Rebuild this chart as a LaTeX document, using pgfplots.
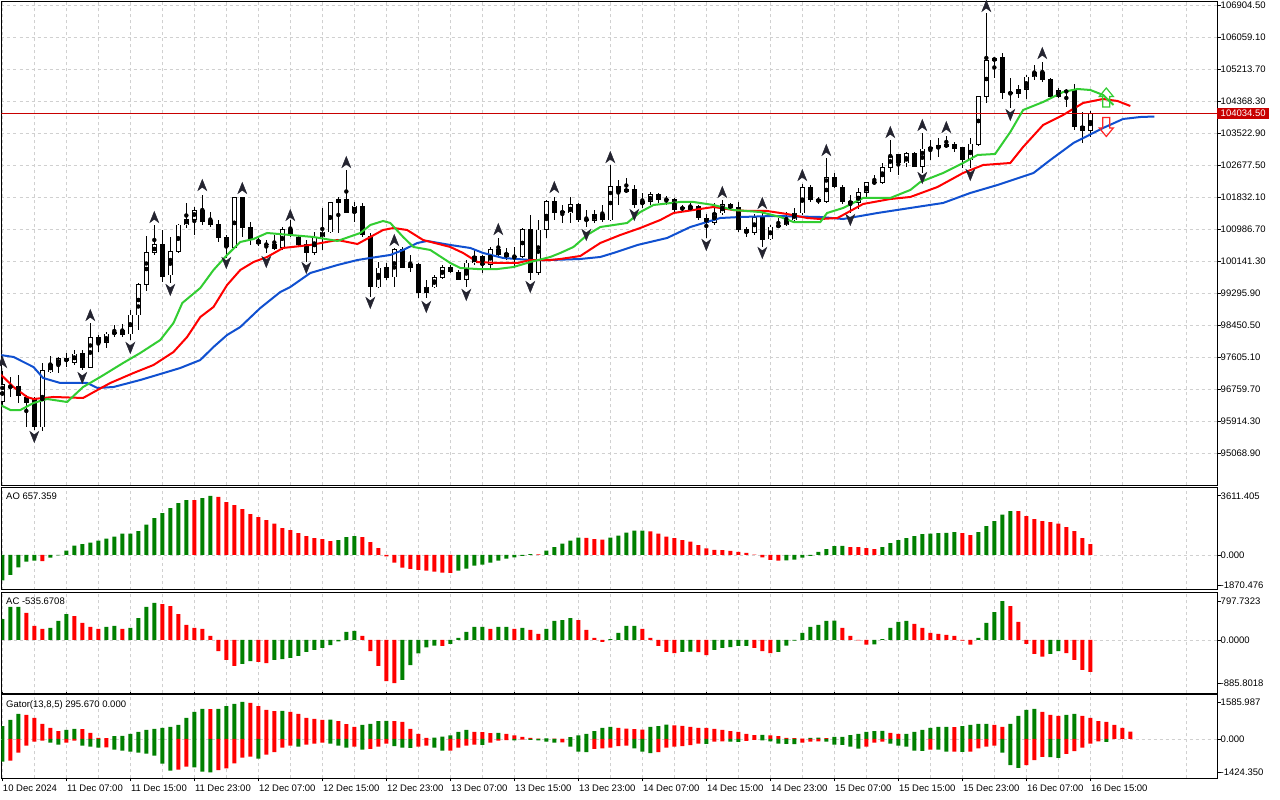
\documentclass[border=0pt]{standalone}
\usepackage{pgfplots}
\pgfplotsset{compat=1.18}
\usepackage{pgfplotstable}
\usepackage{fontspec}
\setmainfont{Liberation Sans}
\definecolor{mtgreen}{RGB}{0,128,0}
\definecolor{mtred}{RGB}{255,0,0}
\definecolor{pricered}{RGB}{200,0,0}
\definecolor{jawblue}{RGB}{16,80,208}
\definecolor{lipsgreen}{RGB}{50,205,50}
\definecolor{gridgray}{RGB}{208,208,208}
\definecolor{fracdark}{RGB}{36,36,48}
\newcommand\mtfont{\fontsize{9.5}{11}\selectfont}

\pgfdeclareplotmark{fracup}{%
  \pgfpathmoveto{\pgfqpoint{0pt}{5.5pt}}\pgfpathlineto{\pgfqpoint{4.4pt}{-5.5pt}}%
  \pgfpathlineto{\pgfqpoint{0pt}{-2.2pt}}\pgfpathlineto{\pgfqpoint{-4.4pt}{-5.5pt}}%
  \pgfpathclose\pgfusepathqfillstroke}
\pgfdeclareplotmark{fracdn}{%
  \pgfpathmoveto{\pgfqpoint{0pt}{-5.5pt}}\pgfpathlineto{\pgfqpoint{4.4pt}{5.5pt}}%
  \pgfpathlineto{\pgfqpoint{0pt}{2.2pt}}\pgfpathlineto{\pgfqpoint{-4.4pt}{5.5pt}}%
  \pgfpathclose\pgfusepathqfillstroke}
\pgfdeclareplotmark{sigup}{%
  \pgfpathmoveto{\pgfqpoint{0pt}{9.5pt}}\pgfpathlineto{\pgfqpoint{7pt}{1pt}}%
  \pgfpathlineto{\pgfqpoint{3.5pt}{1pt}}\pgfpathlineto{\pgfqpoint{3.5pt}{-9.5pt}}%
  \pgfpathlineto{\pgfqpoint{-3.5pt}{-9.5pt}}\pgfpathlineto{\pgfqpoint{-3.5pt}{1pt}}%
  \pgfpathlineto{\pgfqpoint{-7pt}{1pt}}\pgfpathclose\pgfusepathqstroke}
\pgfdeclareplotmark{sigdn}{%
  \pgfpathmoveto{\pgfqpoint{0pt}{-9.5pt}}\pgfpathlineto{\pgfqpoint{7pt}{-1pt}}%
  \pgfpathlineto{\pgfqpoint{3.5pt}{-1pt}}\pgfpathlineto{\pgfqpoint{3.5pt}{9.5pt}}%
  \pgfpathlineto{\pgfqpoint{-3.5pt}{9.5pt}}\pgfpathlineto{\pgfqpoint{-3.5pt}{-1pt}}%
  \pgfpathlineto{\pgfqpoint{-7pt}{-1pt}}\pgfpathclose\pgfusepathqstroke}

\pgfplotsset{
  mtpanel/.style={
    scale only axis, width=1216pt, xmin=-0.1, xmax=151.9, anchor=south west,
    axis line style={black, line width=1pt},
    xtick={0,8,...,136}, minor xtick={4,12,...,148},
    xmajorgrids, xminorgrids,
    major grid style={gridgray, dash pattern=on 3pt off 3pt, line width=0.8pt},
    minor grid style={gridgray, dash pattern=on 3pt off 3pt, line width=0.8pt},
    xticklabels={}, xtick style={draw=none},
    ytick pos=right, yticklabel pos=right,
    tick align=outside, major tick length=3pt, minor tick length=0pt,
    ytick style={black, line width=0.8pt},
    yticklabel style={font=\mtfont, anchor=west, inner sep=0pt},
    /pgf/number format/assume math mode=true,
  },
  bars/.style={ybar, bar width=4pt, bar shift=0pt, draw=none},
}

\pgfplotstableread{
i O H L C
0 96416 97235 96337 96865
1 96838 97076 96548 96812
2 96838 97129 96390 96574
3 96522 96601 95755 96390
4 96469 96548 95676 95755
5 95755 97446 95650 97235
6 97208 97631 97182 97419
7 97419 97605 97182 97552
8 97552 97711 97340 97499
9 97472 97790 97393 97684
10 97684 97790 97261 97340
11 97340 98503 97314 98107
12 98107 98186 97737 97975
13 97975 98265 97843 98212
14 98212 98450 98133 98265
15 98292 98476 98133 98186
16 98212 98846 98054 98714
17 98714 99560 98318 99507
18 99507 100801 99349 100353
19 100353 101092 100300 100564
20 100564 100960 99586 99744
21 99771 100775 99560 100379
22 100379 101118 100353 101092
23 101092 101674 101013 101250
24 101250 101568 100828 101488
25 101488 101885 101092 101171
26 101198 101435 101039 101118
27 101118 101224 100643 100749
28 100749 100828 100221 100511
29 100485 101832 100470 101806
30 101806 101832 100775 101013
31 101013 101171 100564 100696
32 100670 100801 100537 100590
33 100590 100696 100353 100564
34 100564 100828 100432 100458
35 100485 101039 100432 100986
36 100986 101224 100775 100828
37 100775 100828 100511 100564
38 100590 100696 100114 100353
39 100353 100907 100300 100775
40 100775 101542 100432 100907
41 100907 101700 100881 101674
42 101674 101832 100881 101779
43 101779 102545 101409 101435
44 101435 101700 101171 101594
45 101594 101674 100775 100828
46 100801 100881 99190 99454
47 99454 100114 99428 99956
48 99982 100088 99639 99692
49 99718 100485 99454 100432
50 100432 100511 99956 99982
51 99982 100300 99850 100061
52 100061 100088 99164 99296
53 99296 99639 99164 99454
54 99454 99771 99428 99692
55 99692 100035 99665 99982
56 99982 100035 99824 99850
57 99850 99903 99639 99665
58 99665 100167 99454 100088
59 100088 100432 100035 100247
60 100247 100300 99824 100061
61 100061 100511 99903 100432
62 100432 100749 100247 100300
63 100326 100485 100167 100247
64 100273 100511 99956 100247
65 100247 101013 100221 100986
66 100986 101356 99639 99824
67 99824 101224 99771 100960
68 100960 101753 100749 101700
69 101700 101832 101224 101435
70 101462 101621 101145 101409
71 101409 101832 101145 101621
72 101621 101674 101171 101224
73 101250 101488 101039 101198
74 101198 101488 101145 101382
75 101382 101621 101171 101224
76 101224 102677 101198 102122
77 102122 102281 101621 101964
78 101964 102334 101938 102043
79 102043 102149 101542 101621
80 101647 101938 101542 101700
81 101700 101964 101621 101885
82 101885 101938 101674 101753
83 101779 101858 101621 101753
84 101779 101806 101435 101488
85 101542 101621 101435 101525
86 101514 101674 101488 101568
87 101568 101621 101224 101277
88 101277 101382 100749 101145
89 101145 101674 101092 101409
90 101409 101753 101356 101621
91 101621 101674 101488 101542
92 101542 101700 100907 100960
93 100986 101039 100775 100881
94 100881 101382 100828 101303
95 101303 101488 100511 100696
96 100722 101092 100696 101039
97 101039 101277 101013 101092
98 101092 101435 101065 101224
99 101224 101542 101171 101409
100 101409 102175 101356 102070
101 102070 102149 101700 101753
102 101779 101832 101647 101700
103 101700 102862 101674 102334
104 102334 102466 102070 102096
105 102096 102149 101647 101700
106 101674 101885 101409 101700
107 101674 102070 101515 101938
108 101938 102228 101832 102202
109 102202 102413 102149 102228
110 102202 102730 102175 102624
111 102624 103338 102492 102915
112 102942 102968 102413 102730
113 102730 103021 102624 102968
114 102968 103021 102624 102650
115 102650 103523 102466 103100
116 103100 103338 102809 103127
117 103127 103391 102888 103180
118 103153 103444 103127 103232
119 103232 103285 103021 103100
120 103127 103153 102598 102809
121 102809 103391 102598 103232
122 103206 104501 103180 104474
123 104474 106693 104316 105425
124 105425 105530 104976 105504
125 105530 105637 104421 104580
126 104580 104976 104183 104553
127 104553 104791 104448 104659
128 104659 105055 104421 105002
129 105002 105319 104923 105134
130 105134 105398 104870 104923
131 104949 104976 104448 104474
132 104474 104712 104448 104633
133 104633 104685 104209 104606
134 104633 104817 103602 103681
135 103707 104077 103259 103576
136 103576 104104 103417 104034.5
}\candles

\pgfplotstableread{
x y
-0.25 97658
1.4 97605
3.9 97340
5.1 97050
7.25 96918
10.6 96918
11.9 96786
13.9 96812
17.25 96997
19.75 97155
22.25 97314
24.75 97525
26.4 97869
28.1 98186
29.75 98397
32.25 98899
34.75 99322
36 99454
38.5 99824
41.9 100035
44.4 100167
46 100221
48.5 100300
50.1 100432
51.9 100617
53.1 100670
56 100564
58.5 100485
60.1 100353
62.6 100221
66 100167
68.5 100167
72.25 100194
74.75 100247
76.4 100353
79.4 100564
83.1 100749
86 101039
89.75 101277
92.25 101303
96.4 101330
102.25 101303
105.1 101250
109.4 101409
113.5 101542
117.6 101674
121 101938
124.4 102149
128.9 102466
131 102809
133.9 103259
137.6 103655
140.1 103893
142.25 103945
144 103958
}\jaw

\pgfplotstableread{
x y
-0.25 97155
1.4 96812
3.1 96548
3.9 96495
6.4 96548
10.1 96522
11.9 96733
13.5 96918
16.4 97182
18.9 97393
21.4 97737
23.1 98133
24.75 98661
26.4 98926
28.1 99507
29.75 99903
31.4 100114
33.1 100247
35.1 100485
38.5 100564
41.9 100696
44.4 100590
46 100775
47.6 100960
48.9 101013
50.6 100960
52.6 100696
56 100511
57.6 100353
59.4 100114
61.9 100088
64.4 100088
66 100167
68.5 100167
69.75 100194
72.25 100273
74.75 100617
77.25 100828
79.75 101013
82.25 101224
83.9 101409
86.4 101488
88.9 101568
91.4 101488
93.1 101462
95.6 101462
98.1 101382
100.6 101277
102.25 101250
104.4 101277
107.6 101647
111 101779
113.5 101832
116.9 102096
120.1 102466
122.6 102677
126 102730
127.6 103153
130.1 103734
132.6 103998
135.1 104316
137.6 104421
139.4 104368
141 104236
}\teeth

\pgfplotstableread{
x y
-0.25 96337
1 96204
2.25 96204
3.9 96390
5.6 96495
8.1 96416
10.1 96812
12.25 97076
15.1 97446
17.25 97711
19.75 98054
21.4 98503
22.5 99032
24.75 99428
26.4 99903
28.1 100300
29.75 100643
31.4 100722
33.1 100881
36 100828
38.9 100775
41.9 100670
44.75 100881
46 101092
47.6 101198
48.5 101145
50.1 100775
51.4 100511
53.5 100432
56 100088
57.25 99956
59.4 99929
61.9 99929
63.9 99982
66 100114
68.5 100247
69.75 100353
71.4 100511
73.1 100828
74.75 101039
78.1 101145
79.75 101435
81.4 101621
84.75 101700
86.4 101700
88.9 101621
91.4 101488
94.75 101435
97.25 101303
98.9 101171
102.25 101171
103.1 101409
105.1 101542
107.6 101806
111 101806
113.5 102017
114.75 102228
117.6 102466
120.1 102730
121.9 102942
124.1 102968
126 103549
127.6 104130
130.1 104342
132.6 104606
134.4 104685
136 104659
137.6 104527
138.9 104263
}\lips

\pgfplotstableread{
i y
0 97472
11 98714
19 101303
25 102149
30 102070
36 101356
43 102756
49 100696
62 100986
69 102096
76 102888
90 101964
95 101674
100 102413
103 103074
111 103549
115 103734
118 103681
123 106880
130 105636
}\fup

\pgfplotstableread{
i y
4 95491
10 97050
16 97843
21 99375
28 100088
33 100114
38 99956
46 99032
53 98926
58 99243
66 99454
73 100828
79 101356
88 100564
95 100353
106 101224
115 102334
121 102413
126 103998
}\fdn

\pgfplotstableread{
i v c
0 -1550 1
1 -1218 1
2 -750 1
3 -406 1
4 -340 1
5 -370 0
6 -164 1
7 -20 1
8 264 1
9 568 1
10 670 1
11 751 1
12 873 1
13 994 1
14 1116 1
15 1299 1
16 1305 1
17 1462 1
18 1847 1
19 2253 1
20 2558 1
21 2862 1
22 3167 1
23 3350 1
24 3340 0
25 3471 1
26 3611 1
27 3550 0
28 3228 0
29 3045 0
30 2801 0
31 2497 0
32 2314 0
33 2131 0
34 1908 0
35 1644 0
36 1522 0
37 1340 0
38 1157 0
39 1035 0
40 974 0
41 853 0
42 913 1
43 1096 1
44 1157 1
45 1096 0
46 792 0
47 426 0
48 -80 0
49 -467 0
50 -773 0
51 -853 0
52 -914 0
53 -954 0
54 -1015 0
55 -1076 0
56 -1090 0
57 -954 1
58 -832 1
59 -649 1
60 -588 1
61 -467 1
62 -345 1
63 -223 1
64 -142 1
65 -61 1
66 60 1
67 40 0
68 262 1
69 487 1
70 690 1
71 873 1
72 1055 1
73 1040 0
74 974 0
75 933 0
76 1055 1
77 1177 1
78 1360 1
79 1482 1
80 1490 1
81 1440 0
82 1299 0
83 1116 0
84 1035 0
85 913 0
86 812 0
87 609 0
88 406 0
89 305 0
90 290 0
91 244 0
92 183 0
93 122 0
94 20 0
95 -142 0
96 -305 0
97 -345 0
98 -330 1
99 -284 1
100 -162 1
101 -50 1
102 183 1
103 365 1
104 548 1
105 560 1
106 487 0
107 480 0
108 426 0
109 365 0
110 487 1
111 731 1
112 913 1
113 1035 1
114 1157 1
115 1279 1
116 1300 1
117 1340 1
118 1345 1
119 1401 1
120 1340 0
121 1218 0
122 1401 1
123 1766 1
124 2071 1
125 2456 1
126 2680 1
127 2670 0
128 2375 0
129 2192 0
130 2071 0
131 2010 0
132 1906 0
133 1705 0
134 1462 0
135 1035 0
136 657 0
}\aotab

\pgfplotstableread{
i v c
0 430 1
1 677 1
2 680 1
3 554 0
4 287 0
5 226 0
6 246 1
7 390 1
8 533 1
9 492 0
10 349 0
11 267 0
12 226 0
13 267 1
14 287 1
15 226 0
16 246 1
17 451 1
18 677 1
19 759 1
20 738 0
21 697 0
22 533 0
23 308 0
24 246 0
25 226 0
26 82 0
27 -226 0
28 -410 0
29 -533 0
30 -492 1
31 -431 1
32 -451 0
33 -472 0
34 -410 1
35 -390 1
36 -369 1
37 -328 1
38 -246 1
39 -205 1
40 -164 1
41 -103 1
42 -30 1
43 164 1
44 185 1
45 82 0
46 -226 0
47 -533 0
48 -841 0
49 -886 0
50 -820 1
51 -513 1
52 -273 1
53 -150 1
54 -116 1
55 -120 0
56 -82 1
57 41 1
58 164 1
59 267 1
60 270 1
61 226 0
62 267 1
63 270 1
64 226 0
65 246 1
66 205 0
67 123 0
68 226 1
69 390 1
70 410 1
71 451 1
72 410 0
73 205 0
74 41 0
75 -41 0
76 20 1
77 144 1
78 287 1
79 290 1
80 226 0
81 41 0
82 -123 0
83 -246 0
84 -267 0
85 -246 1
86 -240 1
87 -250 0
88 -308 0
89 -205 1
90 -164 1
91 -144 1
92 -123 1
93 -120 1
94 -164 0
95 -226 0
96 -267 0
97 -246 1
98 -116 1
99 -14 1
100 144 1
101 267 1
102 308 1
103 390 1
104 395 1
105 246 0
106 82 0
107 -8 0
108 -96 0
109 -90 1
110 20 1
111 246 1
112 369 1
113 390 1
114 328 0
115 246 0
116 144 0
117 123 0
118 103 0
119 82 0
120 -14 0
121 -96 0
122 41 1
123 349 1
124 574 1
125 798 1
126 697 0
127 369 0
128 -82 0
129 -287 0
130 -342 0
131 -287 1
132 -226 1
133 -267 0
134 -410 0
135 -615 0
136 -656 0
}\actab

\pgfplotstableread{
i v c
0 556 1
1 813 1
2 1070 1
3 1027 0
4 899 0
5 642 0
6 471 0
7 342 0
8 385 1
9 428 1
10 420 0
11 257 0
12 43 0
13 40 0
14 128 1
15 130 1
16 214 1
17 300 1
18 385 1
19 428 1
20 471 1
21 514 1
22 599 1
23 899 1
24 1156 1
25 1284 1
26 1280 0
27 1290 1
28 1412 1
29 1498 1
30 1586 1
31 1541 0
32 1412 0
33 1241 0
34 1198 0
35 1200 1
36 1156 0
37 1070 0
38 899 0
39 856 0
40 813 0
41 830 1
42 770 0
43 640 0
44 514 0
45 599 1
46 642 1
47 770 1
48 780 1
49 770 0
50 728 0
51 428 0
52 214 0
53 43 0
54 60 1
55 100 1
56 150 1
57 300 1
58 385 1
59 300 0
60 290 0
61 250 0
62 260 1
63 214 0
64 150 0
65 86 0
66 43 0
67 20 0
68 30 1
69 20 0
70 10 0
71 80 1
72 150 1
73 214 1
74 342 1
75 471 1
76 514 1
77 471 0
78 440 0
79 420 0
80 400 0
81 514 1
82 556 1
83 620 1
84 580 0
85 560 0
86 514 0
87 480 0
88 471 0
89 428 0
90 385 0
91 342 0
92 300 0
93 214 0
94 171 0
95 180 1
96 150 0
97 128 0
98 43 0
99 40 0
100 20 0
101 43 1
102 60 1
103 40 0
104 86 1
105 90 1
106 171 1
107 214 1
108 300 1
109 342 1
110 345 1
111 257 0
112 214 0
113 220 1
114 300 1
115 385 1
116 471 1
117 514 1
118 520 1
119 510 0
120 556 1
121 599 1
122 642 1
123 650 1
124 599 0
125 514 0
126 642 1
127 985 1
128 1241 1
129 1284 1
130 1156 0
131 1027 0
132 985 0
133 1027 1
134 1070 1
135 985 0
136 899 0
137 770 0
138 728 0
139 599 0
140 471 0
141 320 0
}\gatu

\pgfplotstableread{
i v c
0 -970 1
1 -927 0
2 -585 0
3 -285 0
4 -114 0
5 -71 0
6 -157 1
7 -243 1
8 -157 0
9 -71 0
10 -285 1
11 -328 1
12 -371 1
13 -360 0
14 -457 1
15 -499 1
16 -542 1
17 -585 1
18 -628 1
19 -713 1
20 -1056 1
21 -1355 1
22 -1313 0
23 -1184 0
24 -1213 1
25 -1398 1
26 -1424 1
27 -1327 0
28 -1256 0
29 -1042 0
30 -799 0
31 -756 0
32 -842 1
33 -670 0
34 -560 0
35 -371 0
36 -285 0
37 -328 1
38 -243 0
39 -200 0
40 -157 0
41 -200 1
42 -285 1
43 -371 1
44 -330 0
45 -457 1
46 -420 0
47 -328 0
48 -200 0
49 -300 1
50 -371 1
51 -380 1
52 -328 0
53 -285 0
54 -371 1
55 -499 1
56 -499 0
57 -371 0
58 -285 0
59 -243 0
60 -250 1
61 -157 0
62 -71 0
63 -50 0
64 -60 1
65 -30 0
66 -40 1
67 -60 1
68 -110 1
69 -157 1
70 -140 0
71 -328 1
72 -542 1
73 -560 1
74 -420 0
75 -400 0
76 -371 0
77 -300 0
78 -280 0
79 -400 1
80 -542 1
81 -600 1
82 -560 0
83 -371 0
84 -328 0
85 -300 0
86 -257 0
87 -200 0
88 -210 1
89 -114 0
90 -100 0
91 -110 1
92 -120 1
93 -80 0
94 -40 0
95 -60 1
96 -100 1
97 -200 1
98 -210 1
99 -215 1
100 -157 0
101 -114 0
102 -100 0
103 -114 1
104 -243 1
105 -250 1
106 -328 1
107 -414 1
108 -328 0
109 -157 0
110 -114 0
111 -200 1
112 -285 1
113 -328 1
114 -499 1
115 -510 1
116 -457 0
117 -460 1
118 -542 1
119 -540 0
120 -550 1
121 -540 0
122 -400 0
123 -328 0
124 -285 0
125 -585 1
126 -1113 1
127 -1241 1
128 -1113 0
129 -899 0
130 -770 0
131 -780 1
132 -813 1
133 -642 0
134 -514 0
135 -371 0
136 -200 0
137 -100 0
138 -120 1
}\gatl

\begin{document}
\begin{tikzpicture}
\fill[white] (0,0) rectangle (1280pt,800pt);
\path[use as bounding box] (0,0) rectangle (1280pt,800pt);

% ---------------- main price panel ----------------
\begin{axis}[mtpanel, at={(1.5pt,314.5pt)}, height=484pt,
  ymin=94209.7, ymax=106997, ymajorgrids,
  ytick={95068.9,95914.3,96759.7,97605.1,98450.5,99295.9,100141.3,100986.7,101832.1,102677.5,103522.9,104368.3,105213.7,106059.1,106904.5},
  yticklabels={95068.90,95914.30,96759.70,97605.10,98450.50,99295.90,100141.30,100986.70,101832.10,102677.50,103522.90,104368.30,105213.70,106059.10,106904.50},
  extra y ticks={104034.5}, extra y tick labels={104034.50},
  extra y tick style={grid=none, yticklabel style={fill=pricered, text=white, inner xsep=3.5pt, inner ysep=2pt, xshift=-3.5pt}},
]
% wicks
\addplot[only marks, mark=none, forget plot,
  error bars/.cd, y dir=both, y explicit, error mark=none,
  error bar style={draw=black, line width=1pt}]
  table[x=i, y expr={0.5*(\thisrow{H}+\thisrow{L})}, y error expr={0.5*(\thisrow{H}-\thisrow{L})}] {\candles};
% bearish bodies
\addplot[only marks, mark=none, forget plot,
  restrict expr to domain={\thisrow{O}-\thisrow{C}}{0.001:100000},
  error bars/.cd, y dir=both, y explicit, error mark=none,
  error bar style={draw=black, line width=5pt}]
  table[x=i, y expr={0.5*(\thisrow{O}+\thisrow{C})}, y error expr={0.5*abs(\thisrow{O}-\thisrow{C})+13}] {\candles};
% bullish bodies: outline
\addplot[only marks, mark=none, forget plot,
  restrict expr to domain={\thisrow{C}-\thisrow{O}}{0:100000},
  error bars/.cd, y dir=both, y explicit, error mark=none,
  error bar style={draw=black, line width=5pt}]
  table[x=i, y expr={0.5*(\thisrow{O}+\thisrow{C})}, y error expr={0.5*abs(\thisrow{C}-\thisrow{O})+13}] {\candles};
% bullish bodies: interior
\addplot[only marks, mark=none, forget plot,
  restrict expr to domain={\thisrow{C}-\thisrow{O}}{0:100000},
  error bars/.cd, y dir=both, y explicit, error mark=none,
  error bar style={draw=white, line width=3pt}]
  table[x=i, y expr={0.5*(\thisrow{O}+\thisrow{C})}, y error expr={max(0.5*abs(\thisrow{C}-\thisrow{O})-13,0)}] {\candles};
% current price level (last close)
\addplot[draw=pricered, line width=1.1pt, mark=none, forget plot] coordinates {(-1,104034.5) (160,104034.5)};
% alligator
\addplot[jawblue, line width=2pt, mark=none] table[x=x, y=y] {\jaw};
\addplot[mtred, line width=2pt, mark=none] table[x=x, y=y] {\teeth};
\addplot[lipsgreen, line width=2pt, mark=none] table[x=x, y=y] {\lips};
% fractals
\addplot[only marks, mark=fracup, mark options={fill=fracdark, draw=fracdark, line width=0.5pt}] table[x=i, y=y] {\fup};
\addplot[only marks, mark=fracdn, mark options={fill=fracdark, draw=fracdark, line width=0.5pt}] table[x=i, y=y] {\fdn};
% signal arrows
\addplot[only marks, mark=sigup, mark options={draw=lipsgreen, line width=1.2pt}] coordinates {(138,104461)};
\addplot[only marks, mark=sigdn, mark options={draw=mtred!85, line width=1.2pt}] coordinates {(138,103681)};
\end{axis}

% ---------------- AO ----------------
\begin{axis}[mtpanel, at={(1.5pt,210pt)}, height=102.5pt,
  ymin=-2135, ymax=4117.5,
  ytick={-1870.476,3611.405}, yticklabels={-1870.476,3611.405},
  extra y ticks={0}, extra y tick labels={0.000}, extra y tick style={grid=major},
]
\addplot[bars, fill=mtgreen, restrict expr to domain={\thisrow{c}}{0.5:1.5}] table[x=i, y=v] {\aotab};
\addplot[bars, fill=mtred, restrict expr to domain={\thisrow{c}}{-0.5:0.5}] table[x=i, y=v] {\aotab};
\node[anchor=north west, inner sep=0pt, font=\mtfont, xshift=4.5pt, yshift=-5.5pt] at (rel axis cs:0,1) {AO 657.359};
\end{axis}

% ---------------- AC ----------------
\begin{axis}[mtpanel, at={(1.5pt,106.7pt)}, height=100.8pt,
  ymin=-1093, ymax=974,
  ytick={-885.8018,797.7323}, yticklabels={-885.8018,797.7323},
  extra y ticks={0}, extra y tick labels={0.0000}, extra y tick style={grid=major},
]
\addplot[bars, fill=mtgreen, restrict expr to domain={\thisrow{c}}{0.5:1.5}] table[x=i, y=v] {\actab};
\addplot[bars, fill=mtred, restrict expr to domain={\thisrow{c}}{-0.5:0.5}] table[x=i, y=v] {\actab};
\node[anchor=north west, inner sep=0pt, font=\mtfont, xshift=4.5pt, yshift=-5.5pt] at (rel axis cs:0,1) {AC -535.6708};
\end{axis}

% ---------------- Gator ----------------
\begin{axis}[mtpanel, at={(1.5pt,21.7pt)}, height=83.3pt,
  ymin=-1682, ymax=1883,
  ytick={-1424.35,1585.987}, yticklabels={-1424.350,1585.987},
  extra y ticks={0}, extra y tick labels={0.000}, extra y tick style={grid=major},
  xtick style={draw=black, line width=0.8pt},
  xticklabels={10 Dec 2024,11 Dec 07:00,11 Dec 15:00,11 Dec 23:00,12 Dec 07:00,12 Dec 15:00,12 Dec 23:00,13 Dec 07:00,13 Dec 15:00,13 Dec 23:00,14 Dec 07:00,14 Dec 15:00,14 Dec 23:00,15 Dec 07:00,15 Dec 15:00,15 Dec 23:00,16 Dec 07:00,16 Dec 15:00},
  xticklabel style={font=\mtfont, anchor=north west, inner sep=0pt, xshift=0.5pt, yshift=-3.5pt},
]
\addplot[bars, fill=mtgreen, restrict expr to domain={\thisrow{c}}{0.5:1.5}] table[x=i, y=v] {\gatu};
\addplot[bars, fill=mtred, restrict expr to domain={\thisrow{c}}{-0.5:0.5}] table[x=i, y=v] {\gatu};
\addplot[bars, fill=mtgreen, restrict expr to domain={\thisrow{c}}{0.5:1.5}] table[x=i, y=v] {\gatl};
\addplot[bars, fill=mtred, restrict expr to domain={\thisrow{c}}{-0.5:0.5}] table[x=i, y=v] {\gatl};
\node[anchor=north west, inner sep=0pt, font=\mtfont, xshift=4.5pt, yshift=-5.5pt] at (rel axis cs:0,1) {Gator(13,8,5) 295.670 0.000};
\end{axis}
\end{tikzpicture}
\end{document}
